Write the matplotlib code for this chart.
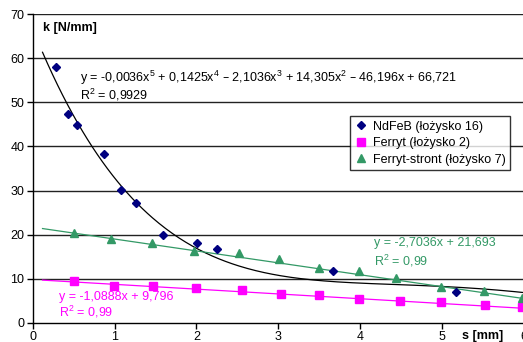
import matplotlib
matplotlib.use("Agg")
import matplotlib.pyplot as plt
import numpy as np

plt.rcParams['font.family'] = ['Liberation Sans', 'DejaVu Sans']
plt.rcParams['mathtext.default'] = 'regular'

# NdFeB (łożysko 16)
ndfeb_x = [0.29, 0.43, 0.545, 0.867, 1.08, 1.26, 1.595, 2.01, 2.25, 3.67, 5.17]
ndfeb_y = [58.0, 47.4, 44.8, 38.2, 30.2, 27.1, 19.9, 18.0, 16.7, 11.75, 6.9]
# Ferryt (łożysko 2)
ferryt_x = [0.50, 0.99, 1.47, 2.0, 2.55, 3.03, 3.5, 3.99, 4.48, 4.99, 5.52, 5.98]
ferryt_y = [9.4, 8.3, 8.4, 7.8, 7.4, 6.5, 6.4, 5.4, 5.0, 4.7, 4.1, 3.5]
# Ferryt-stront (łożysko 7)
stront_x = [0.50, 0.96, 1.46, 1.97, 2.52, 3.01, 3.5, 3.99, 4.44, 4.985, 5.51, 5.97]
stront_y = [20.4, 19.1, 18.2, 16.3, 15.9, 14.4, 12.4, 11.8, 10.1, 8.2, 7.1, 5.7]

poly5_coef = [-0.0036, 0.1425, -2.1036, 14.305, -46.196, 66.721]
ferryt_coef = [-1.0888, 9.796]
stront_coef = [-2.7036, 21.693]

labels = ['NdFeB (łożysko 16)', 'Ferryt (łożysko 2)', 'Ferryt-stront (łożysko 7)']
x_ticks = [0, 1, 2, 3, 4, 5, 6]
y_ticks = [0, 10, 20, 30, 40, 50, 60, 70]

navy = '#000080'
magenta = '#FF00FF'
green = '#339966'
FS = 9

fig = plt.figure(figsize=(5.23, 3.42), dpi=100)
ax = fig.add_axes([32.7/523, 19.3/342, 491.3/523, 308.4/342])
ax.set_xlim(0, 6)
ax.set_ylim(0, 70)

xt = np.linspace(0.12, 6.2, 300)
ax.plot(xt, np.polyval(poly5_coef, xt), color='black', lw=0.9, zorder=2)
ax.plot(xt, np.polyval(ferryt_coef, xt), color=magenta, lw=0.9, zorder=2)
ax.plot(xt, np.polyval(stront_coef, xt), color=green, lw=0.9, zorder=2)

ax.plot(ndfeb_x, ndfeb_y, 'D', color=navy, ms=4.3, ls='none', label=labels[0], zorder=3, clip_on=False)
ax.plot(ferryt_x, ferryt_y, 's', color=magenta, ms=5.3, ls='none', label=labels[1], zorder=3, clip_on=False)
ax.plot(stront_x, stront_y, '^', color=green, ms=5.5, ls='none', label=labels[2], zorder=3, clip_on=False)

ax.set_xticks(x_ticks)
ax.set_yticks(y_ticks)
ax.tick_params(labelsize=FS, length=4, width=1, colors='black', pad=2)
for y in y_ticks[1:]:
    ax.axhline(y, color='#222222', lw=1, zorder=1)
for s in ['top', 'right']:
    ax.spines[s].set_visible(False)
ax.spines['left'].set_linewidth(1)
ax.spines['bottom'].set_linewidth(1)

ax.text(0.125, 67.0, 'k [N/mm]', fontsize=FS, fontweight='bold', va='center')
ax.text(5.24, -3.1, 's [mm]', fontsize=FS, fontweight='bold', va='center', clip_on=False)

ax.text(0.575, 55.5, 'y = -0,0036x$^{5}$ + 0,1425x$^{4}$ – 2,1036x$^{3}$ + 14,305x$^{2}$ – 46,196x + 66,721',
        fontsize=FS, va='center')
ax.text(0.575, 51.6, 'R$^{2}$ = 0,9929', fontsize=FS, va='center')
ax.text(4.17, 18.0, 'y = -2,7036x + 21,693', fontsize=FS, va='center', color=green)
ax.text(4.17, 14.0, 'R$^{2}$ = 0,99', fontsize=FS, va='center', color=green)
ax.text(0.325, 5.9, 'y = -1,0888x + 9,796', fontsize=FS, va='center', color=magenta)
ax.text(0.325, 2.5, 'R$^{2}$ = 0,99', fontsize=FS, va='center', color=magenta)

leg = ax.legend(loc='upper left', bbox_to_anchor=(0.646, 0.669), borderaxespad=0,
                fontsize=FS, frameon=True, fancybox=False, edgecolor='black',
                handlelength=1, handletextpad=0.5, labelspacing=0.35, borderpad=0.35)
leg.get_frame().set_linewidth(1)

fig.savefig('out.png', dpi=100)
